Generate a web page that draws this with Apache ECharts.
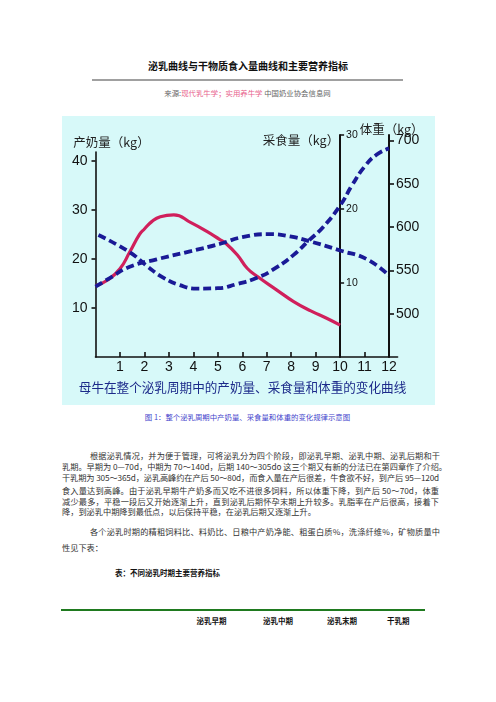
<!DOCTYPE html>
<html><head><meta charset="utf-8">
<script src="https://cdn.jsdelivr.net/npm/echarts@6/dist/echarts.min.js"></script>
<style>
html,body{margin:0;padding:0;background:#fff;}
body{width:496px;height:702px;position:relative;overflow:hidden;font-family:"Noto Sans CJK SC","Noto Sans",sans-serif;}
.a{position:absolute;white-space:nowrap;}
.j{position:absolute;text-align:justify;text-align-last:justify;white-space:nowrap;font-size:8.2px;line-height:11px;color:#333;}
.p{position:absolute;font-size:8.2px;line-height:11px;color:#333;white-space:nowrap;}
#chart{position:absolute;left:62px;top:116px;width:373px;height:289px;}
</style></head>
<body>
<div class="a" style="left:0;width:496px;top:59px;text-align:center;font-size:10px;line-height:14px;font-weight:bold;color:#111;">泌乳曲线与干物质食入量曲线和主要营养指标</div>
<div class="a" style="left:92px;top:79px;width:311px;height:1.5px;background:#a0a0a0;"></div>
<div class="a" style="left:0;width:495px;top:88px;text-align:center;font-size:7.4px;line-height:10px;color:#666;">来源:<span style="color:#e8628c;">现代乳牛学；实用养牛学</span> 中国奶业协会信息网</div>
<div id="chart"></div>
<div class="a" style="left:0;width:495px;top:411.5px;text-align:center;font-size:7.4px;line-height:10px;color:#4444cc;">图 1：整个泌乳周期中产奶量、采食量和体重的变化规律示意图</div>

<div class="j" style="left:90px;width:350px;top:449.5px;">根据泌乳情况，并为便于管理，可将泌乳分为四个阶段，即泌乳早期、泌乳中期、泌乳后期和干</div>
<div class="j" style="left:62px;width:377px;top:461px;">乳期。早期为 0—70d，中期为 70～140d，后期 140～305do 这三个期又有新的分法已在第四章作了介绍。</div>
<div class="j" style="left:62px;width:377px;top:472px;letter-spacing:-0.15px;">干乳期为 305～365d，泌乳高峰约在产后 50～80d，而食入量在产后很差，牛食欲不好，到产后 95—120d</div>
<div class="j" style="left:62px;width:377px;top:484.5px;">食入量达到高峰。由于泌乳早期牛产奶多而又吃不进很多饲料，所以体重下降，到产后 50～70d，体重</div>
<div class="j" style="left:62px;width:377px;top:495.5px;">减少最多，平稳一段后又开始逐渐上升，直到泌乳后期怀孕末期上升较多。乳脂率在产后很高，接着下</div>
<div class="p" style="left:62px;top:506px;">降，到泌乳中期降到最低点，以后保持平稳，在泌乳后期又逐渐上升。</div>
<div class="j" style="left:90px;width:350px;top:525.5px;">各个泌乳时期的精粗饲料比、料奶比、日粮中产奶净能、粗蛋白质%，洗涤纤维%，矿物质量中</div>
<div class="p" style="left:62px;top:541.5px;">性见下表：</div>

<div class="a" style="left:115px;top:568px;font-size:7.5px;line-height:10px;font-weight:bold;color:#111;">表：不同泌乳时期主要营养指标</div>
<div class="a" style="left:61px;top:609px;width:364px;height:1.5px;background:#1f7a1f;"></div>
<div class="a" style="left:196.5px;top:616px;font-size:7.5px;line-height:10px;font-weight:bold;color:#111;">泌乳早期</div>
<div class="a" style="left:263px;top:616px;font-size:7.5px;line-height:10px;font-weight:bold;color:#111;">泌乳中期</div>
<div class="a" style="left:327px;top:616px;font-size:7.5px;line-height:10px;font-weight:bold;color:#111;">泌乳末期</div>
<div class="a" style="left:387px;top:616px;font-size:7.5px;line-height:10px;font-weight:bold;color:#111;">干乳期</div>

<script>
// x-axis tick labels (months)
const monthTicks = [1,2,3,4,5,6,7,8,9,10,11,12];
// axis tick labels
const milkTicks = [10,20,30,40];
const intakeTicks = [10,20,30];
const weightTicks = [500,550,600,650,700];

// 产奶量 (kg), left axis
const milkMonth = [0,0.5,1,1.4,1.8,2.0,2.3,2.65,3.2,3.9,4.55,5.1,5.3,5.8,6.2,6.65,7.4,8.1,8.8,9.45,10];
const milkKg    = [14.5,15.7,18.0,21.4,25.0,26.1,27.6,28.6,29.0,27.4,25.6,23.9,23.3,20.8,18.1,16.3,13.7,11.3,9.4,7.9,6.5];

// 采食量 (kg), middle axis
const intakeMonth = [0,0.6,1.4,2.5,3.9,5.1,6.0,7.1,7.95,8.8,10,11.1,12];
const intakeKg    = [9.5,10.7,12.2,13.2,14.3,15.3,16.2,16.6,16.3,15.6,14.4,13.2,11.0];

// 体重 (kg), right axis
const weightMonth = [0.12,1.4,2.15,2.75,3.45,4.15,5.0,5.75,6.65,7.4,8.1,8.7,9.3,10,10.5,11,11.5,12];
const weightKg    = [591,571,554,542,533,529,529.5,534,542,553.5,568,584,600,625,649,670,684,691];

const zip = (xs, ys) => xs.map((x, i) => [x, ys[i]]);

const chart = echarts.init(document.getElementById('chart'), null, {renderer: 'canvas'});
const G = {left: 33.5, right: 37.4, bottom: 48};
const numFont = '"Liberation Sans", Arial, sans-serif';
const cjk = '"Noto Sans CJK SC", sans-serif';
const axisColor = '#111';
const hiddenX = (i) => ({gridIndex: i, type: 'value', min: 0, max: 12.35, show: false});

chart.setOption({
  animation: false,
  backgroundColor: '#d7f9f9',
  grid: [
    Object.assign({top: 36}, G),
    Object.assign({top: 19}, G),
    Object.assign({top: 19}, G)
  ],
  xAxis: [
    {
      gridIndex: 0, type: 'value', min: 0, max: 12.35, interval: 1,
      splitLine: {show: false},
      axisLine: {onZero: false, lineStyle: {color: axisColor, width: 1.6}},
      axisTick: {inside: true, length: 5, customValues: monthTicks, lineStyle: {color: axisColor, width: 1.6}},
      axisLabel: {customValues: monthTicks, margin: 3, fontSize: 14, color: '#111', fontFamily: numFont,
        formatter: v => (Number.isInteger(v) && v > 0 ? String(v) : '')}
    },
    hiddenX(1), hiddenX(2)
  ],
  yAxis: [
    {
      gridIndex: 0, type: 'value', position: 'left', min: 0, max: 41.8,
      splitLine: {show: false},
      axisLine: {show: true, onZero: false, lineStyle: {color: axisColor, width: 1.6}},
      axisTick: {show: true, length: 4, customValues: milkTicks, lineStyle: {color: axisColor, width: 1.6}},
      axisLabel: {customValues: milkTicks, margin: 8, fontSize: 14, color: '#111', fontFamily: numFont}
    },
    {
      gridIndex: 1, type: 'value', position: 'right', offset: -57.5, min: 0, max: 30,
      splitLine: {show: false},
      axisLine: {show: true, onZero: false, lineStyle: {color: axisColor, width: 2}},
      axisTick: {show: true, length: 4, customValues: intakeTicks, lineStyle: {color: axisColor, width: 1.5}},
      axisLabel: {customValues: intakeTicks, margin: 6, fontSize: 10.5, color: '#111', fontFamily: numFont}
    },
    {
      gridIndex: 2, type: 'value', position: 'right', offset: -8.6, min: 450, max: 706.5,
      splitLine: {show: false},
      axisLine: {show: true, onZero: false, lineStyle: {color: axisColor, width: 2}},
      axisTick: {show: true, length: 5, customValues: weightTicks, lineStyle: {color: axisColor, width: 1.6}},
      axisLabel: {customValues: weightTicks, margin: 7, fontSize: 14, color: '#111', fontFamily: numFont}
    }
  ],
  series: [
    {
      name: '采食量', type: 'line', xAxisIndex: 1, yAxisIndex: 1,
      data: zip(intakeMonth, intakeKg), smooth: 0.5, showSymbol: false, z: 3,
      lineStyle: {color: '#1a1a96', width: 3.8, type: [8, 4], cap: 'butt'}
    },
    {
      name: '体重', type: 'line', xAxisIndex: 2, yAxisIndex: 2,
      data: zip(weightMonth, weightKg), smooth: 0.5, showSymbol: false, z: 3,
      lineStyle: {color: '#1a1a96', width: 3.8, type: [8, 4], cap: 'butt'}
    },
    {
      name: '产奶量', type: 'line', xAxisIndex: 0, yAxisIndex: 0,
      data: zip(milkMonth, milkKg), smooth: 0.5, showSymbol: false, z: 2,
      lineStyle: {color: '#d0205c', width: 3.2}
    }
  ],
  graphic: [
    {type: 'text', x: 49.5, y: 26, style: {text: '产奶量（kg）', font: '12.5px ' + cjk, fill: '#222', align: 'center', verticalAlign: 'middle'}},
    {type: 'text', x: 239, y: 24.7, style: {text: '采食量（kg）', font: '12.5px ' + cjk, fill: '#222', align: 'center', verticalAlign: 'middle'}},
    {type: 'text', x: 329.7, y: 13, style: {text: '体重（kg）', font: '12.5px ' + cjk, fill: '#222', align: 'center', verticalAlign: 'middle'}},
    {type: 'text', x: 180.5, y: 271, style: {text: '母牛在整个泌乳周期中的产奶量、采食量和体重的变化曲线', font: '12.6px ' + cjk, fill: '#1c2a8a', align: 'center', verticalAlign: 'middle'}}
  ]
});
</script>
</body></html>
